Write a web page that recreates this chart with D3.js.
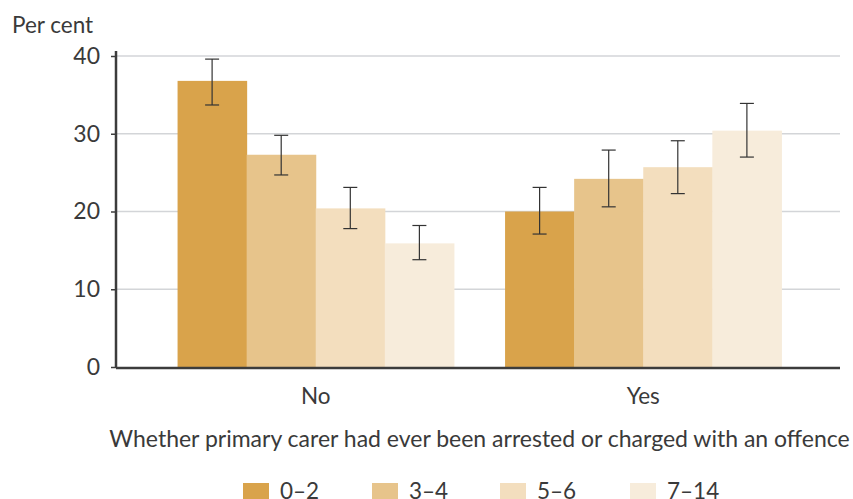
<!DOCTYPE html>
<html>
<head>
<meta charset="utf-8">
<script src="https://cdn.jsdelivr.net/npm/d3@7"></script>
<style>
  body { margin: 0; background: #fff; }
  text { font-family: Lato, sans-serif; fill: #3a3a3a; }
</style>
</head>
<body>
<div id="chart"></div>
<script>
const groups = ["No", "Yes"];
const ageGroups = ["0–2", "3–4", "5–6", "7–14"];
const noValues = [36.8, 27.3, 20.4, 15.9];
const noLow = [33.7, 24.7, 17.8, 13.8];
const noHigh = [39.6, 29.8, 23.1, 18.2];
const yesValues = [20.0, 24.2, 25.7, 30.4];
const yesLow = [17.1, 20.6, 22.3, 27.0];
const yesHigh = [23.1, 27.9, 29.1, 33.9];
const yTicks = [0, 10, 20, 30, 40];
const colors = ["#d9a34b", "#e7c48b", "#f3debe", "#f7ecdb"];

const width = 853, height = 499;

const svg = d3.select("#chart")
    .append("svg")
    .attr("width", width)
    .attr("height", height);

// build rows from the arrays
const data = [];
groups.forEach((g, gi) => {
    const vals = gi === 0 ? noValues : yesValues;
    const lo = gi === 0 ? noLow : yesLow;
    const hi = gi === 0 ? noHigh : yesHigh;
    ageGroups.forEach((a, i) => {
        data.push({ group: g, age: a, value: vals[i], low: lo[i], high: hi[i] });
    });
});

const y = d3.scaleLinear().domain([0, 40]).range([367, 56]);

const x0 = d3.scaleBand().domain(groups).range([152, 807]).padding(0);
const x1 = d3.scaleBand().domain(ageGroups).range([0, x0.bandwidth()])
    .paddingInner(0).paddingOuter(0.37);

const color = d3.scaleOrdinal().domain(ageGroups).range(colors);

// gridlines
svg.append("g")
    .selectAll("line")
    .data(yTicks.filter(d => d > 0))
    .enter().append("line")
    .attr("x1", 116).attr("x2", 840)
    .attr("y1", d => y(d)).attr("y2", d => y(d))
    .attr("stroke", "#d3d5d8")
    .attr("stroke-width", 1.5);

// bars
svg.append("g")
    .selectAll("rect")
    .data(data)
    .enter().append("rect")
    .attr("x", d => x0(d.group) + x1(d.age))
    .attr("y", d => y(d.value))
    .attr("width", x1.bandwidth() + 0.5)
    .attr("height", d => y(0) - y(d.value))
    .attr("fill", d => color(d.age));

// error bars
const err = svg.append("g")
    .attr("stroke", "#333")
    .attr("stroke-width", 1.2);
data.forEach(d => {
    const cx = x0(d.group) + x1(d.age) + x1.bandwidth() / 2;
    err.append("line").attr("x1", cx).attr("x2", cx).attr("y1", y(d.high)).attr("y2", y(d.low));
    err.append("line").attr("x1", cx - 7).attr("x2", cx + 7).attr("y1", y(d.high)).attr("y2", y(d.high));
    err.append("line").attr("x1", cx - 7).attr("x2", cx + 7).attr("y1", y(d.low)).attr("y2", y(d.low));
});

// y axis
const yAxis = svg.append("g")
    .attr("transform", "translate(116,0)")
    .call(d3.axisLeft(y).tickValues(yTicks).tickSize(5).tickPadding(11));
yAxis.select(".domain").remove();
yAxis.selectAll(".tick line").attr("stroke", "#3c3c3c").attr("stroke-width", 1.5);
yAxis.selectAll(".tick text")
    .attr("font-size", 23)
    .attr("fill", "#3a3a3a")
    .style("font-family", "Lato, sans-serif");

svg.append("line")
    .attr("x1", 116).attr("x2", 116)
    .attr("y1", 51).attr("y2", 368)
    .attr("stroke", "#3c3c3c").attr("stroke-width", 2.5);

// x axis line
svg.append("line")
    .attr("x1", 116).attr("x2", 840)
    .attr("y1", 368).attr("y2", 368)
    .attr("stroke", "#3c3c3c").attr("stroke-width", 2.5);

// group labels
svg.append("g")
    .selectAll("text")
    .data(groups)
    .enter().append("text")
    .attr("x", d => x0(d) + x0.bandwidth() / 2)
    .attr("y", 404)
    .attr("text-anchor", "middle")
    .attr("font-size", 22.5)
    .text(d => d);

svg.append("text")
    .attr("x", 12).attr("y", 33)
    .attr("font-size", 22.5)
    .text("Per cent");

svg.append("text")
    .attr("x", 479.5).attr("y", 447)
    .attr("text-anchor", "middle")
    .attr("font-size", 23)
    .text("Whether primary carer had ever been arrested or charged with an offence");

// legend
const legendX = [243, 372, 500, 630];
const legend = svg.append("g")
    .selectAll("g")
    .data(ageGroups)
    .enter().append("g")
    .attr("transform", (d, i) => `translate(${legendX[i]},483)`);
legend.append("rect")
    .attr("width", 26).attr("height", 17)
    .attr("fill", d => color(d));
legend.append("text")
    .attr("x", 37).attr("y", 16)
    .attr("font-size", 22.5)
    .text(d => d);
</script>
</body>
</html>
